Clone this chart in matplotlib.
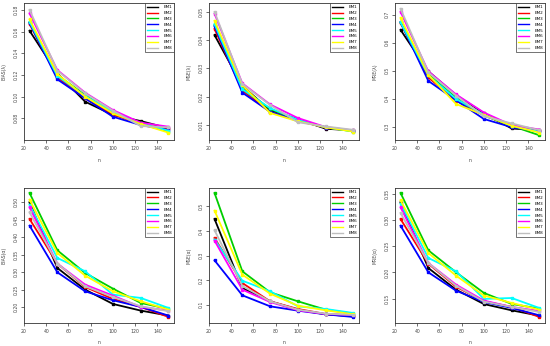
import matplotlib
matplotlib.use("Agg")
import matplotlib.pyplot as plt

n = [25, 50, 75, 100, 125, 150]
labels = ["EM1", "EM2", "EM3", "EM4", "EM5", "EM6", "EM7", "EM8"]
colors = ["#000000", "#FF0000", "#00CD00", "#0000FF", "#00FFFF", "#FF00FF", "#FFFF00", "#BEBEBE"]

bias_lam = [
    [0.1609, 0.1215, 0.0954, 0.0831, 0.0775, 0.0708],
    [0.1671, 0.1178, 0.0985, 0.0837, 0.0745, 0.0698],
    [0.1686, 0.1200, 0.1015, 0.0852, 0.0754, 0.0677],
    [0.1683, 0.1160, 0.0985, 0.0815, 0.0738, 0.0692],
    [0.1692, 0.1191, 0.1006, 0.0862, 0.0754, 0.0686],
    [0.1769, 0.1246, 0.1037, 0.0877, 0.0760, 0.0723],
    [0.1714, 0.1209, 0.1000, 0.0846, 0.0748, 0.0668],
    [0.1800, 0.1240, 0.1031, 0.0871, 0.0729, 0.0717],
]
mse_lam = [
    [0.0418, 0.0238, 0.0151, 0.0120, 0.0086, 0.0080],
    [0.0440, 0.0222, 0.0146, 0.0115, 0.0090, 0.0079],
    [0.0454, 0.0228, 0.0156, 0.0116, 0.0091, 0.0076],
    [0.0450, 0.0214, 0.0146, 0.0114, 0.0090, 0.0079],
    [0.0457, 0.0226, 0.0159, 0.0118, 0.0091, 0.0077],
    [0.0494, 0.0247, 0.0172, 0.0124, 0.0092, 0.0080],
    [0.0469, 0.0240, 0.0142, 0.0112, 0.0091, 0.0076],
    [0.0500, 0.0245, 0.0170, 0.0109, 0.0094, 0.0082],
]
mre_lam = [
    [0.6455, 0.4976, 0.4127, 0.3485, 0.2940, 0.2879],
    [0.6697, 0.4758, 0.3933, 0.3424, 0.3001, 0.2855],
    [0.6721, 0.4879, 0.4030, 0.3400, 0.3036, 0.2697],
    [0.6733, 0.4636, 0.3945, 0.3279, 0.2988, 0.2842],
    [0.6721, 0.4830, 0.3994, 0.3436, 0.3036, 0.2818],
    [0.7097, 0.4976, 0.4152, 0.3510, 0.3061, 0.2903],
    [0.6879, 0.4855, 0.3812, 0.3424, 0.3036, 0.2794],
    [0.7206, 0.4939, 0.4115, 0.3376, 0.3121, 0.2879],
]
bias_alp = [
    [0.5000, 0.3124, 0.2505, 0.2095, 0.1905, 0.1762],
    [0.4524, 0.3248, 0.2581, 0.2238, 0.2010, 0.1724],
    [0.5267, 0.3629, 0.2981, 0.2533, 0.2124, 0.1952],
    [0.4333, 0.3000, 0.2457, 0.2200, 0.2010, 0.1762],
    [0.4933, 0.3410, 0.3029, 0.2362, 0.2267, 0.1981],
    [0.4857, 0.3248, 0.2648, 0.2333, 0.2010, 0.1905],
    [0.5076, 0.3552, 0.2905, 0.2457, 0.2171, 0.1933],
    [0.4714, 0.3248, 0.2600, 0.2295, 0.2029, 0.1886],
]
mse_alp = [
    [0.4485, 0.1678, 0.1136, 0.0797, 0.0607, 0.0525],
    [0.3712, 0.1881, 0.1136, 0.0824, 0.0620, 0.0552],
    [0.5540, 0.2356, 0.1502, 0.1136, 0.0797, 0.0634],
    [0.2803, 0.1380, 0.0932, 0.0756, 0.0607, 0.0498],
    [0.3650, 0.1976, 0.1542, 0.0932, 0.0824, 0.0661],
    [0.3603, 0.1610, 0.1108, 0.0770, 0.0620, 0.0580],
    [0.4824, 0.2220, 0.1447, 0.0959, 0.0770, 0.0607],
    [0.4024, 0.1760, 0.1136, 0.0797, 0.0634, 0.0580],
]
mre_alp = [
    [0.3335, 0.2084, 0.1671, 0.1398, 0.1278, 0.1176],
    [0.3017, 0.2167, 0.1727, 0.1451, 0.1343, 0.1151],
    [0.3513, 0.2421, 0.2002, 0.1610, 0.1400, 0.1310],
    [0.2890, 0.2002, 0.1652, 0.1438, 0.1324, 0.1183],
    [0.3310, 0.2275, 0.2021, 0.1496, 0.1513, 0.1322],
    [0.3240, 0.2179, 0.1767, 0.1464, 0.1343, 0.1265],
    [0.3373, 0.2370, 0.1938, 0.1560, 0.1419, 0.1290],
    [0.3132, 0.2179, 0.1746, 0.1445, 0.1343, 0.1246],
]

panels = [
    (bias_lam, "BIAS(λ)", [0.08, 0.10, 0.12, 0.14, 0.16, 0.18], "{:.2f}", (0.060, 0.1865)),
    (mse_lam, "MSE(λ)", [0.01, 0.02, 0.03, 0.04, 0.05], "{:.2f}", (0.0046, 0.0532)),
    (mre_lam, "MRE(λ)", [0.3, 0.4, 0.5, 0.6, 0.7], "{:.1f}", (0.253, 0.7413)),
    (bias_alp, "BIAS(α)", [0.20, 0.25, 0.30, 0.35, 0.40, 0.45, 0.50], "{:.2f}", (0.155, 0.541)),
    (mse_alp, "MSE(α)", [0.1, 0.2, 0.3, 0.4, 0.5], "{:.1f}", (0.0254, 0.5746)),
    (mre_alp, "MRE(α)", [0.15, 0.20, 0.25, 0.30, 0.35], "{:.2f}", (0.1037, 0.3608)),
]

W, H = 550, 346
fig = plt.figure(figsize=(5.5, 3.46), dpi=100)
lefts = [24, 209, 395]
tops = [3, 188]
bottoms = [140, 323]
width = 150

fs = 3.3
for i, (data, ylab, yt, fmt, ylim) in enumerate(panels):
    r, c = divmod(i, 3)
    l = lefts[c]
    t = tops[r]
    b = bottoms[r]
    ax = fig.add_axes([l / W, 1 - b / H, width / W, (b - t) / H])
    for s in range(8):
        ax.plot(n, data[s], color=colors[s], lw=1.3, marker="s", ms=2.0,
                label=labels[s])
    ax.set_xlim(20, 155)
    ax.set_ylim(*ylim)
    ax.set_xticks([20, 40, 60, 80, 100, 120, 140])
    ax.set_yticks(yt)
    ax.set_yticklabels([fmt.format(v) for v in yt])
    ax.tick_params(axis="both", labelsize=fs, length=2, width=0.5, pad=2, color="#333333",
                   labelcolor="#444444")
    ax.tick_params(axis="y", labelrotation=90)
    for lab in ax.get_yticklabels():
        lab.set_va("center")
    for sp in ax.spines.values():
        sp.set_linewidth(0.6)
        sp.set_color("#333333")
    ax.set_xlabel("n", fontsize=fs, labelpad=5, color="#444444")
    ax.set_ylabel(ylab, fontsize=fs, labelpad=5, color="#444444")
    leg = ax.legend(loc="upper right", fontsize=3.0, frameon=True, fancybox=False,
                    borderaxespad=0, handlelength=2.6, handletextpad=1.2,
                    labelspacing=0.45, borderpad=0.5)
    leg.get_frame().set_edgecolor("#333333")
    leg.get_frame().set_linewidth(0.6)
    for h in leg.legend_handles:
        h.set_marker("")
        h.set_linewidth(1.0)

fig.savefig("out.png", dpi=100, facecolor="white")
